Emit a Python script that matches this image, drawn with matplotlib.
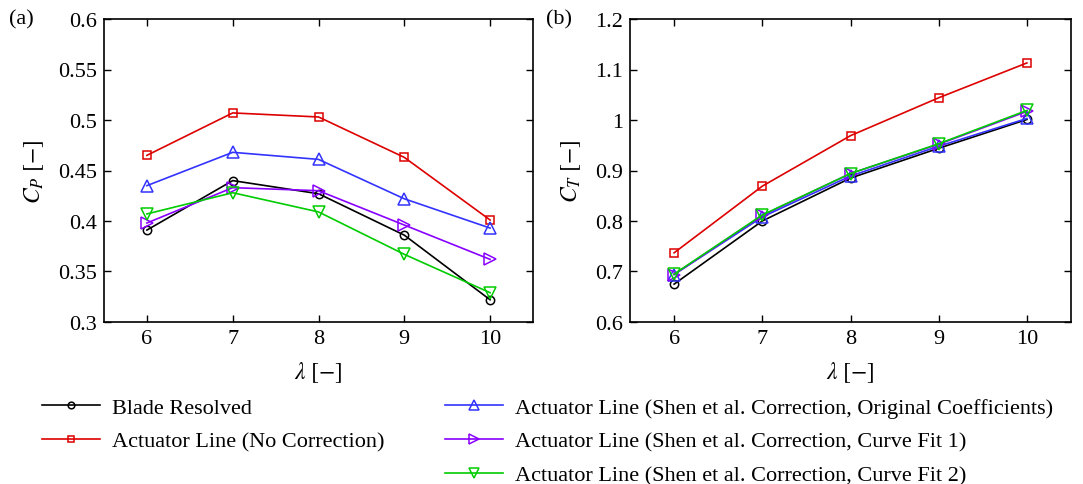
import matplotlib
matplotlib.use("Agg")
import matplotlib.pyplot as plt
from matplotlib.ticker import FuncFormatter, MultipleLocator

plt.rcParams['font.family'] = ['Liberation Serif', 'DejaVu Serif']
plt.rcParams['mathtext.fontset'] = 'stix'

tsr = [6, 7, 8, 9, 10]

cp_blade = [0.391, 0.440, 0.427, 0.386, 0.322]
cp_nocorr = [0.465, 0.507, 0.503, 0.463, 0.401]
cp_orig = [0.435, 0.468, 0.461, 0.422, 0.393]
cp_fit1 = [0.398, 0.433, 0.430, 0.396, 0.362]
cp_fit2 = [0.407, 0.428, 0.409, 0.367, 0.329]

ct_blade = [0.675, 0.800, 0.885, 0.944, 1.001]
ct_nocorr = [0.737, 0.869, 0.969, 1.044, 1.113]
ct_orig = [0.694, 0.808, 0.889, 0.948, 1.003]
ct_fit1 = [0.694, 0.811, 0.894, 0.952, 1.017]
ct_fit2 = [0.695, 0.812, 0.894, 0.953, 1.019]

labels = ["Blade Resolved",
          "Actuator Line (No Correction)",
          "Actuator Line (Shen et al. Correction, Original Coefficients)",
          "Actuator Line (Shen et al. Correction, Curve Fit 1)",
          "Actuator Line (Shen et al. Correction, Curve Fit 2)"]
colors = ['black', '#dd0000', '#3333ff', '#8800ff', '#00cc00']
markers = ['o', 's', '^', '>', 'v']
msizes = [6, 6, 9, 9, 9]

fig = plt.figure(figsize=(10.83, 4.85), dpi=100)
ax1 = fig.add_axes([104/1083, 1-323/485, 429/1083, 303/485])
ax2 = fig.add_axes([630/1083, 1-323/485, 441/1083, 303/485])

fmt = FuncFormatter(lambda v, p: '%g' % round(v, 3))
FS = 16

cp_series = [cp_blade, cp_nocorr, cp_orig, cp_fit1, cp_fit2]
ct_series = [ct_blade, ct_nocorr, ct_orig, ct_fit1, ct_fit2]

handles = []
for ax, series in ((ax1, cp_series), (ax2, ct_series)):
    for i, ys in enumerate(series):
        h, = ax.plot(tsr, ys, color=colors[i], marker=markers[i], markersize=msizes[i],
                     markerfacecolor='none', markeredgecolor=colors[i], markeredgewidth=1.1,
                     linewidth=1.2, label=labels[i])
        if ax is ax1:
            handles.append(h)
    ax.set_xlim(5.5, 10.5)
    ax.xaxis.set_major_locator(MultipleLocator(1))
    ax.tick_params(direction='in', top=True, right=True, length=5, width=1.0,
                   labelsize=FS, pad=5)
    ax.yaxis.set_major_formatter(fmt)
    for s in ax.spines.values():
        s.set_linewidth(1.2)
    ax.set_xlabel(r'$\lambda\ [-]$', fontsize=FS + 1, labelpad=8)

ax1.set_ylim(0.3, 0.6)
ax1.yaxis.set_major_locator(MultipleLocator(0.05))
ax1.set_ylabel(r'$C_P\ [-]$', fontsize=FS + 1, labelpad=9)
ax2.set_ylim(0.6, 1.2)
ax2.yaxis.set_major_locator(MultipleLocator(0.1))
ax2.set_ylabel(r'$C_T\ [-]$', fontsize=FS + 1, labelpad=9)

fig.text(9/1083, 1-20/485, '(a)', fontsize=FS, va='center', ha='left')
fig.text(546/1083, 1-20/485, '(b)', fontsize=FS, va='center', ha='left')

leg_kw = dict(frameon=False, fontsize=FS, handlelength=2.6, handletextpad=0.55,
              labelspacing=0.6, borderpad=0, borderaxespad=0, markerscale=0.8)
fig.legend(handles[:2], labels[:2], loc='upper left',
           bbox_to_anchor=(42/1083, 1-398/485), **leg_kw)
fig.legend(handles[2:], labels[2:], loc='upper left',
           bbox_to_anchor=(445/1083, 1-398/485), **leg_kw)

fig.savefig('out.png', dpi=100)
